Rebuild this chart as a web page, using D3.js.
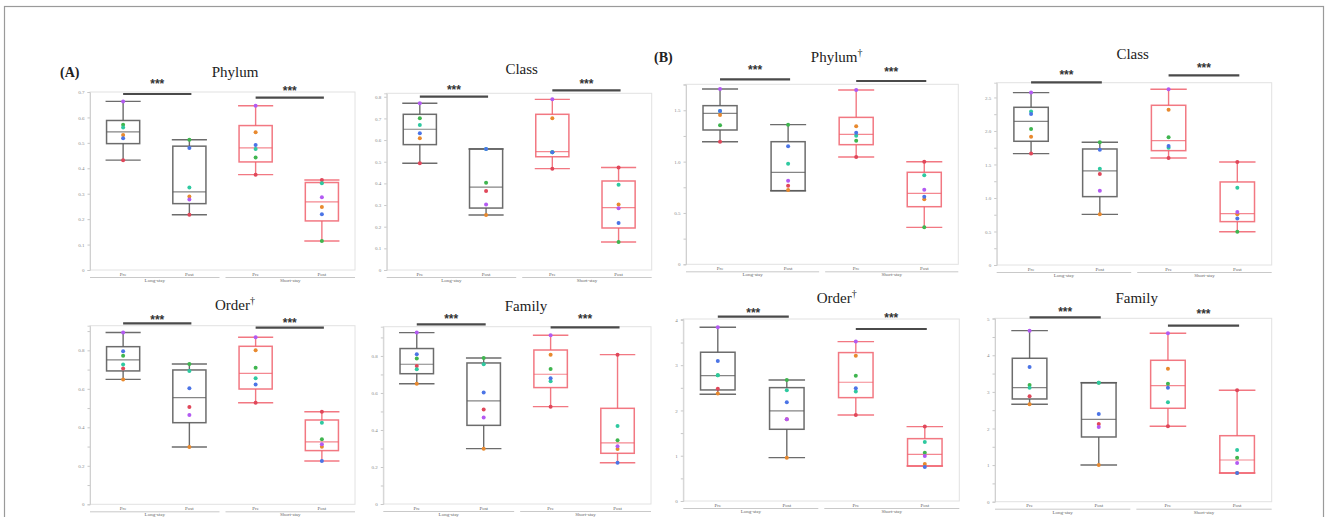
<!DOCTYPE html>
<html>
<head>
<meta charset="utf-8">
<script src="https://cdn.jsdelivr.net/npm/d3@7"></script>
<style>
body { margin: 0; background: #fff; }
svg { display: block; }
</style>
</head>
<body>
<svg id="fig" width="1328" height="517"></svg>
<script>
const xLabels = ["Pre", "Post", "Pre", "Post"];
const groupLabels = ["Long-stay", "Short-stay"];
// subjects: red, orange, green, teal, blue, purple
const subjectColors = ["#e0475a", "#e8892e", "#3fb54f", "#2ec9a0", "#4b74e6", "#b35af2"];

// box stats per group: [low whisker, q1, median, q3, high whisker]
const phylumA_box = [[0.432, 0.497, 0.543, 0.588, 0.663], [0.217, 0.261, 0.307, 0.487, 0.512], [0.375, 0.425, 0.480, 0.568, 0.646], [0.114, 0.193, 0.268, 0.344, 0.354]];
const phylumA_pts = [[0.432, 0.531, 0.571, 0.560, 0.518, 0.663], [0.217, 0.289, 0.512, 0.324, 0.480, 0.277], [0.375, 0.542, 0.442, 0.476, 0.492, 0.646], [0.354, 0.248, 0.114, 0.341, 0.219, 0.286]];

const classA_box = [[0.493, 0.579, 0.650, 0.719, 0.770], [0.254, 0.286, 0.383, 0.559, 0.559], [0.468, 0.523, 0.547, 0.719, 0.788], [0.129, 0.194, 0.288, 0.411, 0.473]];
const classA_pts = [[0.493, 0.608, 0.701, 0.670, 0.631, 0.770], [0.365, 0.254, 0.403, 0.559, 0.559, 0.302], [0.468, 0.701, 0.544, 0.544, 0.544, 0.788], [0.473, 0.302, 0.129, 0.394, 0.217, 0.285]];

const orderA_box = [[0.649, 0.693, 0.750, 0.819, 0.893], [0.298, 0.424, 0.554, 0.698, 0.729], [0.528, 0.599, 0.680, 0.821, 0.868], [0.225, 0.279, 0.324, 0.438, 0.481]];
const orderA_pts = [[0.706, 0.649, 0.772, 0.727, 0.795, 0.893], [0.506, 0.298, 0.729, 0.692, 0.603, 0.464], [0.528, 0.800, 0.710, 0.655, 0.623, 0.868], [0.481, 0.299, 0.338, 0.424, 0.225, 0.312]];

const familyA_box = [[0.650, 0.704, 0.755, 0.840, 0.926], [0.299, 0.425, 0.557, 0.762, 0.789], [0.526, 0.629, 0.701, 0.832, 0.912], [0.223, 0.274, 0.330, 0.517, 0.807]];
const familyA_pts = [[0.746, 0.650, 0.786, 0.728, 0.809, 0.926], [0.510, 0.299, 0.789, 0.755, 0.602, 0.467], [0.526, 0.807, 0.730, 0.663, 0.679, 0.912], [0.807, 0.297, 0.344, 0.422, 0.223, 0.312]];

const phylumB_box = [[1.194, 1.308, 1.470, 1.545, 1.707], [0.717, 0.717, 0.896, 1.194, 1.360], [1.045, 1.165, 1.266, 1.431, 1.697], [0.360, 0.561, 0.690, 0.896, 0.999]];
const phylumB_pts = [[1.194, 1.454, 1.353, 1.493, 1.493, 1.707], [0.766, 0.724, 1.360, 0.980, 1.149, 0.814], [1.045, 1.344, 1.204, 1.253, 1.282, 1.697], [0.999, 0.633, 0.360, 0.867, 0.659, 0.727]];

const classB_box = [[1.662, 1.846, 2.144, 2.353, 2.572], [0.756, 1.020, 1.403, 1.731, 1.831], [1.597, 1.706, 1.856, 2.383, 2.622], [0.497, 0.647, 0.766, 1.239, 1.537]];
const classB_pts = [[1.662, 1.915, 2.030, 2.289, 2.254, 2.572], [1.358, 0.756, 1.831, 1.437, 1.721, 1.109], [1.597, 2.318, 1.906, 1.751, 1.776, 2.622], [1.537, 0.756, 0.497, 1.154, 0.692, 0.791]];

const orderB_box = [[2.357, 2.453, 2.769, 3.286, 3.838], [0.957, 1.584, 1.989, 2.504, 2.674], [1.901, 2.283, 2.623, 3.278, 3.521], [0.773, 0.773, 1.032, 1.377, 1.643]];
const orderB_pts = [[2.482, 2.372, 2.777, 2.777, 3.094, 3.838], [1.805, 0.957, 2.674, 2.446, 2.181, 1.805], [1.901, 3.211, 2.769, 2.416, 2.490, 3.521], [1.643, 0.818, 1.067, 1.304, 0.751, 0.994]];

const familyB_box = [[2.661, 2.806, 3.115, 3.918, 4.672], [1.003, 1.768, 2.251, 3.251, 3.251], [2.060, 2.552, 3.170, 3.863, 4.600], [0.784, 0.784, 1.139, 1.803, 3.044]];
const familyB_pts = [[2.880, 2.661, 3.188, 3.115, 3.680, 4.672], [2.123, 1.003, 3.251, 3.251, 2.396, 2.041], [2.060, 3.634, 3.224, 2.716, 3.115, 4.600], [3.044, 0.784, 1.202, 1.413, 0.784, 1.057]];

// layout of each panel (pixels), axis ranges and tick steps
var panels = [
    {title: "Phylum", dag: false, box: phylumA_box, pts: phylumA_pts, x0: 90, x1: 355, top: 92, bottom: 270, ymax: 0.7, minor: 0.1, major: 0.1, tx: 235, ty: 72, sig: [94, 97.7], star: [81.7, 89]},
    {title: "Class", dag: false, box: classA_box, pts: classA_pts, x0: 386.7, x1: 651.7, top: 93.3, bottom: 270, ymax: 0.816, minor: 0.1, major: 0.1, tx: 521.7, ty: 69, sig: [96.7, 90.3], star: [87.7, 81.7]},
    {title: "Phylum", dag: true, box: phylumB_box, pts: phylumB_pts, x0: 686, x1: 958.3, top: 84.3, bottom: 264.3, ymax: 1.753, minor: 0.25, major: 0.5, tx: 836.7, ty: 57, sig: [79.3, 81], star: [67.7, 69.7]},
    {title: "Class", dag: false, box: classB_box, pts: classB_pts, x0: 996.7, x1: 1271.7, top: 82.7, bottom: 265, ymax: 2.72, minor: 0.25, major: 0.5, tx: 1132.7, ty: 54, sig: [82.3, 75.3], star: [72.7, 66]},
    {title: "Order", dag: true, box: orderA_box, pts: orderA_pts, x0: 90, x1: 355, top: 325.7, bottom: 504.3, ymax: 0.928, minor: 0.1, major: 0.2, tx: 235, ty: 305, sig: [323.3, 327.7], star: [317.7, 321]},
    {title: "Family", dag: false, box: familyA_box, pts: familyA_pts, x0: 383.3, x1: 651, top: 326.7, bottom: 504, ymax: 0.958, minor: 0.1, major: 0.2, tx: 526, ty: 305.7, sig: [324.3, 327.3], star: [317.3, 317.3]},
    {title: "Order", dag: true, box: orderB_box, pts: orderB_pts, x0: 683.3, x1: 959.3, top: 319, bottom: 501, ymax: 4.02, minor: 0.5, major: 1, tx: 836.7, ty: 297.7, sig: [316.7, 329], star: [311, 315.7]},
    {title: "Family", dag: false, box: familyB_box, pts: familyB_pts, x0: 995, x1: 1271.7, top: 318.3, bottom: 501.7, ymax: 5.01, minor: 0.5, major: 1, tx: 1136.7, ty: 298.3, sig: [317.3, 325.7], star: [310, 312.3]}
];

var svg = d3.select("#fig");

// outer figure frame
svg.append("rect")
    .attr("x", 4.5).attr("y", 6.5)
    .attr("width", 1319).attr("height", 530)
    .attr("fill", "none").attr("stroke", "#9a9a9a").attr("stroke-width", 1.2);

svg.append("text").attr("x", 60).attr("y", 77)
    .attr("font-family", "Liberation Serif").attr("font-weight", "bold").attr("font-size", 14)
    .attr("fill", "#222").text("(A)");
svg.append("text").attr("x", 654).attr("y", 62)
    .attr("font-family", "Liberation Serif").attr("font-weight", "bold").attr("font-size", 14)
    .attr("fill", "#222").text("(B)");

panels.forEach(function (p) {
    var g = svg.append("g");
    var x = d3.scaleBand().domain(d3.range(4)).range([p.x0, p.x1]);
    var y = d3.scaleLinear().domain([0, p.ymax]).range([p.bottom, p.top]);
    var bw = x.bandwidth() * 0.5;

    // plot frame
    g.append("rect")
        .attr("x", p.x0).attr("y", p.top)
        .attr("width", p.x1 - p.x0).attr("height", p.bottom - p.top)
        .attr("fill", "none").attr("stroke", "#e2e2e2").attr("stroke-width", 1);

    // y axis
    var ticks = d3.range(0, p.ymax + 1e-9, p.minor);
    var ax = g.append("g")
        .attr("transform", `translate(${p.x0},0)`)
        .call(d3.axisLeft(y).tickValues(ticks).tickSize(2.5).tickPadding(3)
            .tickFormat(function (d) {
                var k = Math.round(d / p.major * 1000) / 1000;
                if (Math.abs(k - Math.round(k)) > 1e-6) return "";
                if (d === 0) return "0";
                return p.major >= 1 ? d3.format(".0f")(d) : d3.format(".1f")(d);
            }));
    ax.select(".domain").attr("stroke", "#d0d0d0");
    ax.selectAll(".tick line").attr("stroke", "#c8c8c8");
    ax.selectAll(".tick text").attr("fill", "#888").attr("font-size", 5)
        .attr("font-family", "Liberation Serif");

    // x labels, group rule and group labels
    g.selectAll(".xl").data(xLabels).enter().append("text")
        .attr("x", (d, i) => x(i) + x.bandwidth() / 2)
        .attr("y", p.bottom + 5.5)
        .attr("text-anchor", "middle").attr("font-size", 5)
        .attr("font-family", "Liberation Serif").attr("fill", "#666")
        .text(d => d);
    groupLabels.forEach(function (lab, j) {
        var gx0 = x(j * 2) + (j ? 3 : 0), gx1 = x(j * 2 + 1) + x.bandwidth() - (j ? 0 : 3);
        g.append("line")
            .attr("x1", gx0).attr("x2", gx1)
            .attr("y1", p.bottom + 7.5).attr("y2", p.bottom + 7.5)
            .attr("stroke", "#bbb").attr("stroke-width", 0.8);
        g.append("text")
            .attr("x", (gx0 + gx1) / 2).attr("y", p.bottom + 12)
            .attr("text-anchor", "middle").attr("font-size", 5)
            .attr("font-family", "Liberation Serif").attr("fill", "#666")
            .text(lab);
    });

    // boxes
    p.box.forEach(function (s, i) {
        var cx = x(i) + x.bandwidth() / 2;
        var col = i < 2 ? "#5c5c5c" : "#f0606c";
        var bg = g.append("g").attr("stroke", col).attr("fill", "none")
            .attr("stroke-opacity", i < 2 ? 0.9 : 0.85);
        bg.append("line").attr("x1", cx).attr("x2", cx)
            .attr("y1", y(s[0])).attr("y2", y(s[1])).attr("stroke-width", 1.4);
        bg.append("line").attr("x1", cx).attr("x2", cx)
            .attr("y1", y(s[3])).attr("y2", y(s[4])).attr("stroke-width", 1.4);
        [s[0], s[4]].forEach(function (v) {
            bg.append("line").attr("x1", cx - bw / 2 - 1).attr("x2", cx + bw / 2 + 1)
                .attr("y1", y(v)).attr("y2", y(v)).attr("stroke-width", 1.4);
        });
        bg.append("rect")
            .attr("x", cx - bw / 2).attr("y", y(s[3]))
            .attr("width", bw).attr("height", y(s[1]) - y(s[3]))
            .attr("stroke-width", 1.5);
        bg.append("line").attr("x1", cx - bw / 2).attr("x2", cx + bw / 2)
            .attr("y1", y(s[2])).attr("y2", y(s[2])).attr("stroke-width", 1.2)
            .attr("stroke-opacity", 0.75);
    });

    // subject points
    p.pts.forEach(function (vals, i) {
        var cx = x(i) + x.bandwidth() / 2;
        g.selectAll(null).data(vals).enter().append("circle")
            .attr("cx", cx).attr("cy", d => y(d)).attr("r", 2)
            .attr("fill", (d, k) => subjectColors[k]);
    });

    // significance bars
    [0, 1].forEach(function (j) {
        var bx0 = x(j * 2) + x.bandwidth() / 2, bx1 = x(j * 2 + 1) + x.bandwidth() / 2 + 2;
        g.append("line").attr("x1", bx0).attr("x2", bx1)
            .attr("y1", p.sig[j]).attr("y2", p.sig[j])
            .attr("stroke", "#4a4a4a").attr("stroke-width", 2.2);
        g.append("text").attr("x", (bx0 + bx1) / 2).attr("y", p.star[j] + 6)
            .attr("text-anchor", "middle").attr("font-size", 12).attr("font-weight", "bold")
            .attr("font-family", "Liberation Sans").attr("fill", "#333")
            .text("***");
    });

    // title
    var t = g.append("text").attr("x", p.tx).attr("y", p.ty + 5)
        .attr("text-anchor", "middle").attr("font-size", 15)
        .attr("font-family", "Liberation Serif").attr("fill", "#222")
        .text(p.title);
    if (p.dag) {
        t.append("tspan").attr("font-size", 10).attr("dy", -6).text("\u2020");
    }
});
</script>
</body>
</html>
